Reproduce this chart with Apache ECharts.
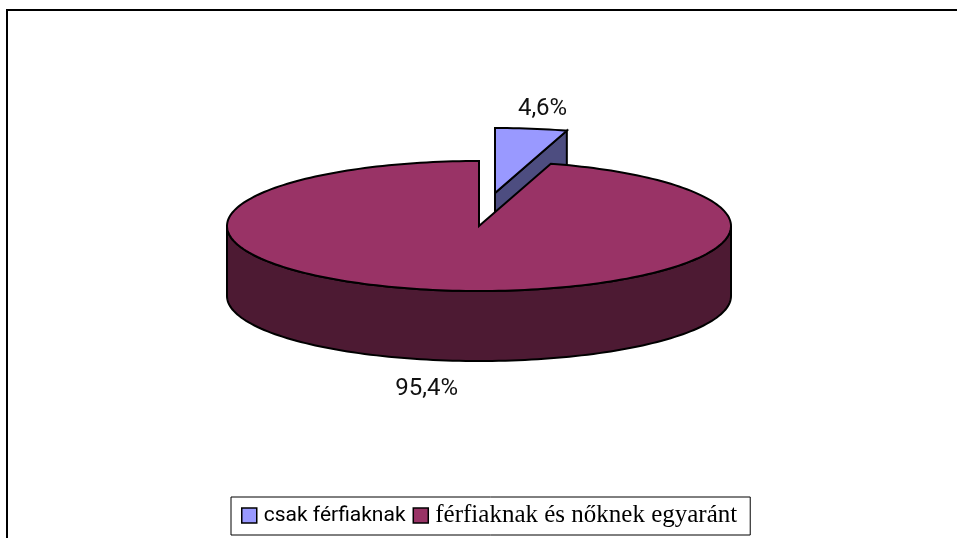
<!DOCTYPE html>
<html lang="en">
<head>
	<meta charset="UTF-8">
	<title>Pie</title>
	<script type="text/javascript" src="https://cdn.jsdelivr.net/npm/echarts@6/dist/echarts.min.js"></script>
	<style>html,body{margin:0;background:#fff}</style>
</head>
<body>
	<div id="main" style="width:957px;height:538px;"></div>
	<script type="text/javascript">
		var categories = ['csak férfiaknak', 'férfiaknak és nőknek egyaránt'];
		var values = [4.6, 95.4];
		var valueLabels = ['4,6%', '95,4%'];
		var topColors = ['#9999FF', '#993366'];
		var sideColors = ['#4D4D80', '#4D1A33'];

		// pie geometry in page pixels
		var cx = 479, cy = 226, rx = 252, ry = 65, depth = 70;
		var offsets = [[16, -33], [0, 0]];
		var labelScale = [1.31, 1.44];
		var total = values[0] + values[1];

		var ellipsePoint = function (deg, ox, oy, down) {
			var a = deg * Math.PI / 180;
			return [cx + ox + rx * Math.sin(a), cy + oy - ry * Math.cos(a) + (down || 0)];
		};
		var arcPoints = function (from, to, ox, oy, down) {
			var pts = [];
			var n = Math.max(1, Math.ceil(Math.abs(to - from) / 1.5));
			for (var i = 0; i <= n; i++) {
				pts.push(ellipsePoint(from + (to - from) * i / n, ox, oy, down));
			}
			return pts;
		};

		var sliceRender = function (idx) {
			return function () {
				var start = 0;
				for (var i = 0; i < idx; i++) start += values[i] / total * 360;
				var end = start + values[idx] / total * 360;
				var ox = offsets[idx][0], oy = offsets[idx][1];
				var apex = [cx + ox, cy + oy];
				var line = { stroke: '#000', lineWidth: 2, lineJoin: 'miter' };
				var children = [];

				// visible wall: cut face for the small slice, front rim for the large one
				var wall;
				if (end <= 180) {
					var p = ellipsePoint(end, ox, oy);
					wall = [apex, p, [p[0], p[1] + depth], [apex[0], apex[1] + depth]];
				} else {
					wall = arcPoints(Math.max(start, 90), Math.min(end, 270), ox, oy)
						.concat(arcPoints(Math.min(end, 270), Math.max(start, 90), ox, oy, depth));
				}
				children.push({ type: 'polygon', shape: { points: wall }, style: Object.assign({ fill: sideColors[idx] }, line) });

				var top = [apex].concat(arcPoints(start, end, ox, oy));
				children.push({ type: 'polygon', shape: { points: top }, style: Object.assign({ fill: topColors[idx] }, line) });

				var mid = (start + end) / 2;
				var a = mid * Math.PI / 180;
				var down = Math.cos(a) < 0 ? depth : 0;
				children.push({
					type: 'text',
					style: {
						text: valueLabels[idx],
						x: apex[0] + rx * labelScale[idx] * Math.sin(a),
						y: apex[1] - ry * labelScale[idx] * Math.cos(a) + down,
						align: 'center',
						verticalAlign: 'middle',
						fill: '#111',
						fontFamily: 'Roboto',
						fontSize: 24
					}
				});
				return { type: 'group', children: children };
			};
		};

		var series = categories.map(function (name, i) {
			return {
				type: 'custom',
				name: name,
				coordinateSystem: 'none',
				data: [[values[i]]],
				z: 2 + i,
				silent: true,
				animation: false,
				itemStyle: { color: topColors[i] },
				renderItem: sliceRender(i)
			};
		});

		var chart = echarts.init(document.getElementById('main'), null, { renderer: 'canvas' });
		chart.setOption({
			backgroundColor: '#fff',
			animation: false,
			graphic: [{
				type: 'rect',
				silent: true,
				shape: { x: 7, y: 10, width: 1100, height: 900 },
				style: { fill: 'none', stroke: '#000', lineWidth: 2 }
			}],
			legend: {
				left: 231,
				top: 497,
				orient: 'horizontal',
				padding: [6, 13, 7, 10],
				itemWidth: 15,
				itemHeight: 15,
				itemGap: 7,
				backgroundColor: '#fff',
				borderColor: '#000',
				borderWidth: 1,
				borderRadius: 0,
				selectedMode: false,
				data: [
					{
						name: categories[0], icon: 'rect',
						itemStyle: { color: topColors[0], borderColor: '#000', borderWidth: 1.5 },
						textStyle: { fontFamily: 'Roboto', fontSize: 21, color: '#000', padding: [0, 0, 0, 2] }
					},
					{
						name: categories[1], icon: 'rect',
						itemStyle: { color: topColors[1], borderColor: '#000', borderWidth: 1.5 },
						textStyle: { fontFamily: '"Liberation Serif"', fontSize: 25, color: '#000', padding: [0, 0, 0, 2] }
					}
				]
			},
			series: series
		});
	</script>
</body>
</html>
